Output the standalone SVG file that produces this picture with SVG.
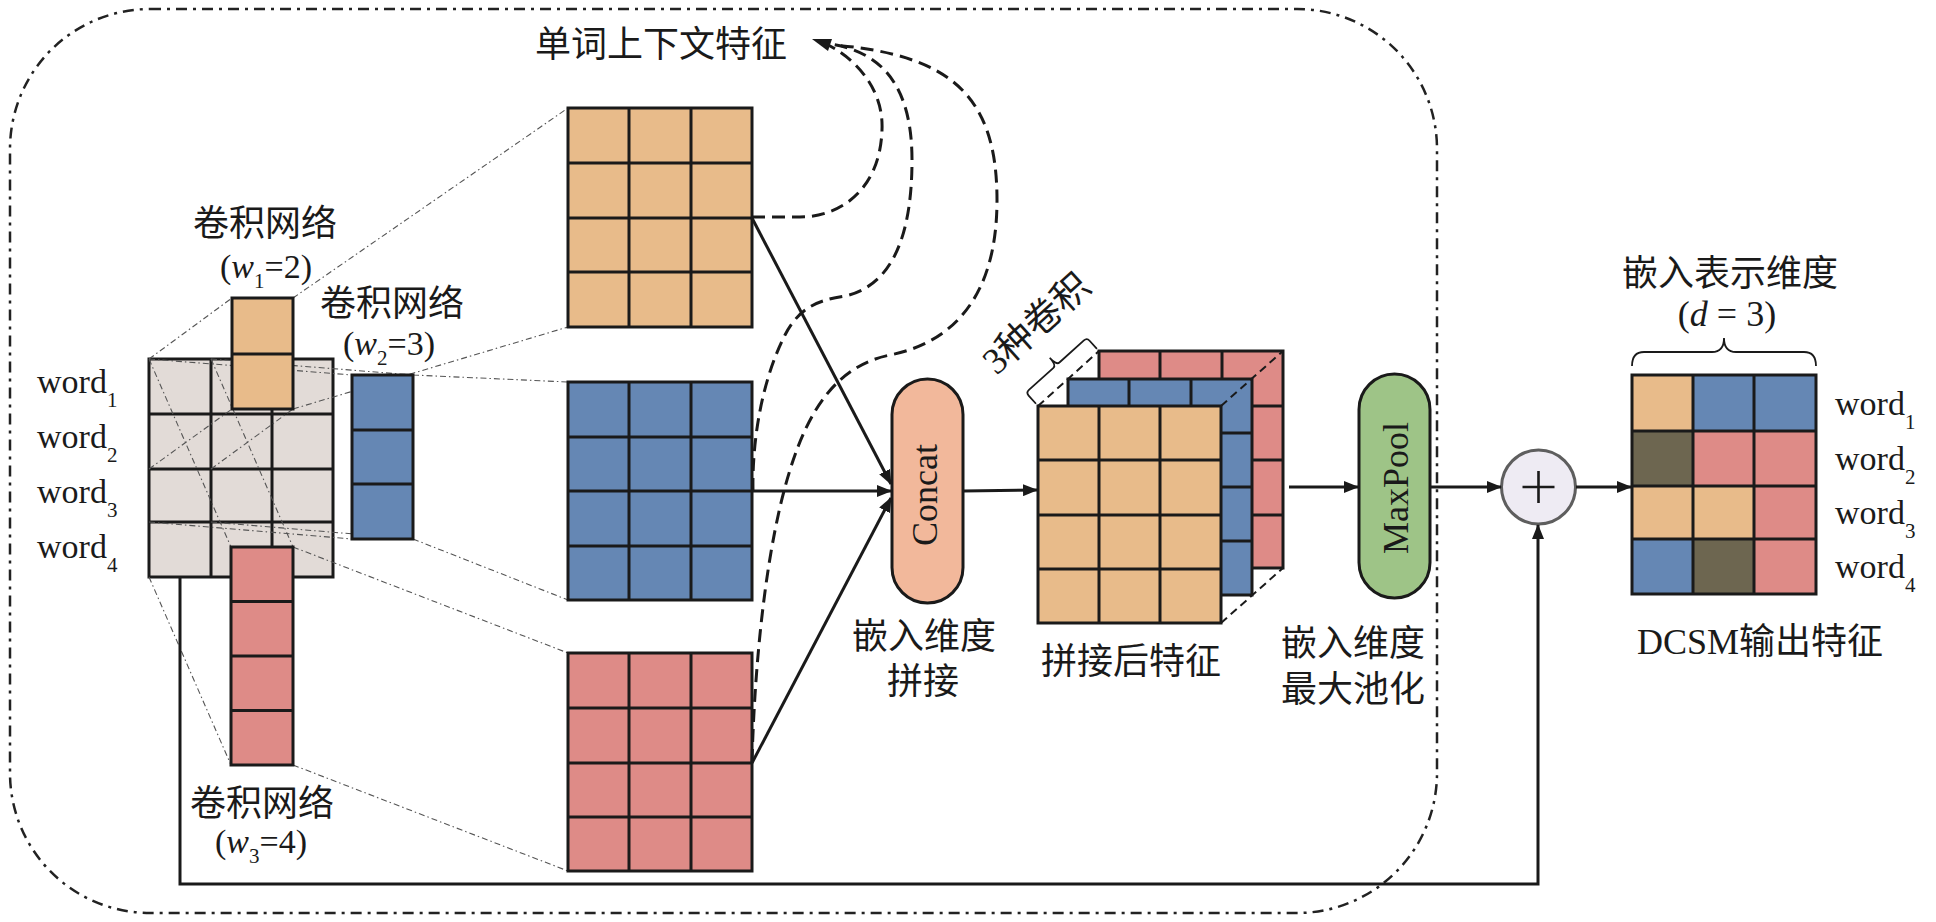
<svg xmlns="http://www.w3.org/2000/svg" width="1936" height="922" viewBox="0 0 1936 922">
<defs>
<style>
.t{font-family:"Liberation Serif","Noto Sans CJK SC",serif;fill:#1a1a1a;}
.cn{font-size:36px;}
.lat{font-size:34px;}
.gl{fill:none;stroke:#1a1a1a;stroke-width:3;}
.cell{stroke:#1a1a1a;stroke-width:3;}
.or{fill:#E8BB8A;}
.bl{fill:#6587B4;}
.rd{fill:#DE8B87;}
.ol{fill:#6D6650;}
.proj{fill:none;stroke:#555;stroke-width:1.1;stroke-dasharray:6,3,1.5,3;}
.dash{fill:none;stroke:#1a1a1a;stroke-width:3;stroke-dasharray:13,7;}
.sol{fill:none;stroke:#1a1a1a;stroke-width:3;}
</style>
<marker id="arr" markerUnits="userSpaceOnUse" markerWidth="15" markerHeight="12" refX="14" refY="6" orient="auto">
<path d="M0,0 L15,6 L0,12 z" fill="#1a1a1a"/>
</marker>
</defs>
<rect width="1936" height="922" fill="#ffffff"/>

<g id="boundary">
<rect x="10" y="9" width="1427" height="904" rx="140" ry="140" fill="none" stroke="#222" stroke-width="2.5" stroke-dasharray="11,6,3,6"/>
</g>

<g id="input-grid">
<rect class="cell" x="149" y="359" width="184" height="218" fill="#E2DBD7"/>
<path class="gl" d="M211,359V577 M272,359V577 M149,414H333 M149,469H333 M149,522H333"/>
</g>

<g id="projections">
<path class="proj" d="M149,359L232,298 M149,469L232,409 M211,469L293,409 M293,298L568,108 M293,409L568,327"/>
<path class="proj" d="M149,359L352,375 M211,359L413,375 M149,522L352,539 M211,522L413,539 M413,375L568,382 M413,539L568,600"/>
<path class="proj" d="M149,359L231,547 M211,359L293,547 M149,577L231,765 M293,547L568,653 M293,765L568,871"/>
</g>

<g id="kernel-w1">
<rect class="cell or" x="232" y="298" width="61" height="111"/>
<path class="gl" d="M232,354H293"/>
</g>
<g id="kernel-w2">
<rect class="cell bl" x="352" y="375" width="61" height="164"/>
<path class="gl" d="M352,430H413 M352,484H413"/>
</g>
<g id="kernel-w3">
<rect class="cell rd" x="231" y="547" width="62" height="218"/>
<path class="gl" d="M231,601.5H293 M231,656H293 M231,710.5H293"/>
</g>

<g id="labels-left">
<text class="t lat" x="37" y="393">word<tspan font-size="21" dy="14">1</tspan></text>
<text class="t lat" x="37" y="448">word<tspan font-size="21" dy="14">2</tspan></text>
<text class="t lat" x="37" y="503">word<tspan font-size="21" dy="14">3</tspan></text>
<text class="t lat" x="37" y="558">word<tspan font-size="21" dy="14">4</tspan></text>
<text class="t cn" x="265" y="236" text-anchor="middle">卷积网络</text>
<text class="t lat" x="266" y="278" text-anchor="middle">(<tspan font-style="italic">w</tspan><tspan font-size="21" dy="10">1</tspan><tspan dy="-10">=2)</tspan></text>
<text class="t cn" x="392" y="316" text-anchor="middle">卷积网络</text>
<text class="t lat" x="389" y="355" text-anchor="middle">(<tspan font-style="italic">w</tspan><tspan font-size="21" dy="10">2</tspan><tspan dy="-10">=3)</tspan></text>
<text class="t cn" x="262" y="816" text-anchor="middle">卷积网络</text>
<text class="t lat" x="261" y="853" text-anchor="middle">(<tspan font-style="italic">w</tspan><tspan font-size="21" dy="10">3</tspan><tspan dy="-10">=4)</tspan></text>
</g>

<g id="feature-orange">
<rect class="cell or" x="568" y="108" width="184" height="219"/>
<path class="gl" d="M629,108V327 M691,108V327 M568,163H752 M568,218H752 M568,272H752"/>
</g>
<g id="feature-blue">
<rect class="cell bl" x="568" y="382" width="184" height="218"/>
<path class="gl" d="M629,382V600 M691,382V600 M568,437H752 M568,491H752 M568,546H752"/>
</g>
<g id="feature-red">
<rect class="cell rd" x="568" y="653" width="184" height="218"/>
<path class="gl" d="M629,653V871 M691,653V871 M568,708H752 M568,763H752 M568,817H752"/>
</g>

<g id="context-label">
<text class="t cn" x="661" y="57" text-anchor="middle">单词上下文特征</text>
</g>

<g id="concat">
<rect x="892" y="379" width="71" height="224" rx="35.5" ry="35.5" fill="#F2B89B" stroke="#1a1a1a" stroke-width="3"/>
<text class="t" font-size="36" transform="translate(937,495) rotate(-90)" text-anchor="middle">Concat</text>
<text class="t cn" x="924" y="649" text-anchor="middle">嵌入维度</text>
<text class="t cn" x="923" y="694" text-anchor="middle">拼接</text>
</g>

<g id="stack">
<rect class="cell rd" x="1099" y="351" width="184" height="217"/>
<path class="gl" d="M1160,351V568 M1222,351V568 M1099,406H1283 M1099,460H1283 M1099,515H1283"/>
<rect class="cell bl" x="1068" y="379" width="184" height="216"/>
<path class="gl" d="M1129,379V595 M1191,379V595 M1068,433H1252 M1068,487H1252 M1068,541H1252"/>
<rect class="cell or" x="1038" y="406" width="183" height="217"/>
<path class="gl" d="M1099,406V623 M1160,406V623 M1038,460H1221 M1038,515H1221 M1038,569H1221"/>
<path fill="none" stroke="#1a1a1a" stroke-width="2" stroke-dasharray="8,5" d="M1038,406L1099,351 M1221,406L1283,351 M1221,623L1283,568"/>
<g transform="translate(1038,406) rotate(-42)">
<path fill="none" stroke="#1a1a1a" stroke-width="1.8" d="M0,-3 L0,-14 Q0,-18 4,-18 L37,-18 Q41,-18 41,-28 Q41,-18 45,-18 L78,-18 Q82,-18 82,-14 L82,-3"/>
<text class="t" font-size="37" x="54" y="-50" text-anchor="middle">3种卷积</text>
</g>
<text class="t cn" x="1131" y="674" text-anchor="middle">拼接后特征</text>
</g>

<g id="maxpool">
<rect x="1359" y="374" width="71" height="224" rx="35.5" ry="35.5" fill="#9EC487" stroke="#1a1a1a" stroke-width="3"/>
<text class="t" font-size="36" transform="translate(1408,488) rotate(-90)" text-anchor="middle">MaxPool</text>
<text class="t cn" x="1353" y="656" text-anchor="middle">嵌入维度</text>
<text class="t cn" x="1353" y="702" text-anchor="middle">最大池化</text>
</g>

<g id="add">
<circle cx="1538.5" cy="487" r="37" fill="#EEEBF3" stroke="#5e5e5e" stroke-width="3"/>
<path d="M1538.5,471V503 M1522.5,487H1554.5" stroke="#1a1a1a" stroke-width="2.6"/>
</g>

<g id="output">
<rect x="1632" y="375" width="61" height="56" class="or"/>
<rect x="1693" y="375" width="61" height="56" class="bl"/>
<rect x="1754" y="375" width="62" height="56" class="bl"/>
<rect x="1632" y="431" width="61" height="55" class="ol"/>
<rect x="1693" y="431" width="61" height="55" class="rd"/>
<rect x="1754" y="431" width="62" height="55" class="rd"/>
<rect x="1632" y="486" width="61" height="53" class="or"/>
<rect x="1693" y="486" width="61" height="53" class="or"/>
<rect x="1754" y="486" width="62" height="53" class="rd"/>
<rect x="1632" y="539" width="61" height="55" class="bl"/>
<rect x="1693" y="539" width="61" height="55" class="ol"/>
<rect x="1754" y="539" width="62" height="55" class="rd"/>
<rect x="1632" y="375" width="184" height="219" class="gl"/>
<path class="gl" d="M1693,375V594 M1754,375V594 M1632,431H1816 M1632,486H1816 M1632,539H1816"/>
<path fill="none" stroke="#1a1a1a" stroke-width="1.8" d="M1632,366 Q1632,352 1644,352 L1712,352 Q1724,352 1724,338 Q1724,352 1736,352 L1804,352 Q1816,352 1816,366"/>
<text class="t cn" x="1730" y="286" text-anchor="middle">嵌入表示维度</text>
<text class="t" font-size="36" x="1727" y="326" text-anchor="middle">(<tspan font-style="italic">d</tspan> = 3)</text>
<text class="t lat" x="1835" y="415">word<tspan font-size="21" dy="14">1</tspan></text>
<text class="t lat" x="1835" y="470">word<tspan font-size="21" dy="14">2</tspan></text>
<text class="t lat" x="1835" y="524">word<tspan font-size="21" dy="14">3</tspan></text>
<text class="t lat" x="1835" y="578">word<tspan font-size="21" dy="14">4</tspan></text>
<text class="t" font-size="36" x="1760" y="654" text-anchor="middle">DCSM输出特征</text>
</g>

<g id="connectors">
<path class="sol" d="M752,218L891,484" marker-end="url(#arr)"/>
<path class="sol" d="M752,491L891,491" marker-end="url(#arr)"/>
<path class="sol" d="M752,763L891,498" marker-end="url(#arr)"/>
<path class="sol" d="M963,491L1037,490" marker-end="url(#arr)"/>
<path class="sol" d="M1289,487L1358,487" marker-end="url(#arr)"/>
<path class="sol" d="M1430,487L1501,487" marker-end="url(#arr)"/>
<path class="sol" d="M1576,487L1631,487" marker-end="url(#arr)"/>
<path class="sol" d="M180,577V884H1538V525" marker-end="url(#arr)"/>
<path class="dash" d="M752,217 L800,217 C840,217 880,190 882,130 C884,85 850,55 826,44"/>
<path class="dash" d="M753,491 C752,440 762,380 785,335 C800,306 820,300 845,296 C895,285 912,230 912,160 C912,90 885,52 830,44"/>
<path class="dash" d="M752,762 C755,650 768,540 790,470 C810,405 840,365 890,355 C950,343 997,300 997,200 C997,95 950,55 834,45"/>
<polygon points="812,39 828,51 832,39" fill="#1a1a1a"/>
</g>
</svg>
